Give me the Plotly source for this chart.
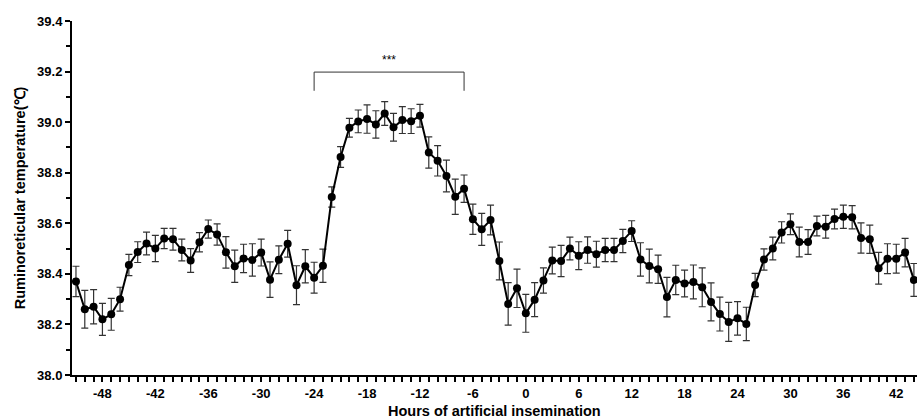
import plotly.graph_objects as go

hours = list(range(-51, 45))
temp_mean = [
    38.37, 38.26, 38.27, 38.22, 38.24, 38.30, 38.435, 38.486, 38.52, 38.50,
    38.54, 38.537, 38.494, 38.453, 38.525, 38.577, 38.556, 38.485, 38.43, 38.461,
    38.455, 38.484, 38.377, 38.456, 38.519, 38.355, 38.43, 38.385, 38.432, 38.704,
    38.862, 38.978, 39.003, 39.012, 38.991, 39.034, 38.98, 39.008, 39.004, 39.025,
    38.88, 38.847, 38.787, 38.705, 38.737, 38.616, 38.576, 38.613, 38.451, 38.281,
    38.343, 38.244, 38.298, 38.374, 38.453, 38.451, 38.50, 38.472, 38.494, 38.478,
    38.494, 38.494, 38.53, 38.569, 38.457, 38.431, 38.418, 38.308, 38.376, 38.362,
    38.368, 38.347, 38.289, 38.241, 38.21, 38.224, 38.202, 38.356, 38.457, 38.50,
    38.564, 38.596, 38.526, 38.526, 38.589, 38.586, 38.617, 38.626, 38.624, 38.542,
    38.537, 38.422, 38.46, 38.46, 38.484, 38.376,
]
temp_se = [
    0.06, 0.075, 0.068, 0.063, 0.063, 0.047, 0.042, 0.041, 0.045, 0.052,
    0.04, 0.043, 0.043, 0.047, 0.038, 0.036, 0.042, 0.062, 0.064, 0.056,
    0.064, 0.053, 0.07, 0.055, 0.053, 0.077, 0.066, 0.061, 0.066, 0.04,
    0.041, 0.037, 0.045, 0.056, 0.054, 0.047, 0.055, 0.053, 0.049, 0.045,
    0.062, 0.06, 0.063, 0.07, 0.054, 0.06, 0.063, 0.059, 0.075, 0.084,
    0.076, 0.075, 0.067, 0.05, 0.053, 0.062, 0.045, 0.055, 0.052, 0.051,
    0.046, 0.046, 0.046, 0.041, 0.066, 0.067, 0.056, 0.078, 0.058, 0.053,
    0.067, 0.077, 0.075, 0.067, 0.077, 0.066, 0.066, 0.046, 0.042, 0.045,
    0.042, 0.041, 0.059, 0.049, 0.039, 0.045, 0.039, 0.046, 0.046, 0.06,
    0.056, 0.063, 0.059, 0.057, 0.056, 0.065,
]
x_tickvals = [-48, -42, -36, -30, -24, -18, -12, -6, 0, 6, 12, 18, 24, 30, 36, 42]
x_ticktext = ["-48", "-42", "-36", "-30", "-24", "-18", "-12", "-6", "0", "6",
              "12", "18", "24", "30", "36", "42"]
bracket_start, bracket_end = -24, -7
bracket_label = "***"

FAM = "Liberation Sans, Arial, sans-serif"
font_b = dict(family=FAM, size=13, color="black", weight="bold")
title_font = dict(family=FAM, size=14.5, color="black", weight="bold")

fig = go.Figure()
fig.add_trace(go.Scatter(
    x=hours, y=temp_mean, mode="lines+markers",
    line=dict(color="black", width=2),
    marker=dict(color="black", size=8),
    error_y=dict(type="data", array=temp_se, color="#333333", thickness=1.2, width=3.5),
    showlegend=False,
))

fig.add_shape(type="path",
              path=f"M {bracket_start},39.124 L {bracket_start},39.198 L {bracket_end},39.198 L {bracket_end},39.124",
              xref="x", yref="y", line=dict(color="#333", width=1))
fig.add_annotation(x=(bracket_start + bracket_end) / 2, y=39.198, yshift=3, yanchor="bottom",
                   text=bracket_label, showarrow=False,
                   font=dict(family=FAM, size=12, color="black"))
fig.add_annotation(x=0.5, xref="paper", y=0, yref="paper", yanchor="top", yshift=-26,
                   text="Hours of artificial insemination", showarrow=False,
                   font=title_font)

fig.update_layout(
    width=917, height=418,
    margin=dict(l=72, r=0, t=21, b=43),
    paper_bgcolor="white", plot_bgcolor="white",
)
fig.update_xaxes(
    range=[-51.45, 44.35], tickvals=x_tickvals, ticktext=x_ticktext,
    showline=True, linecolor="black", linewidth=2, showgrid=False, zeroline=False,
    ticks="outside", ticklen=5, tickwidth=1.5, tickcolor="black",
    minor=dict(dtick=1, tick0=0, ticks="outside", ticklen=5, tickwidth=1.5, tickcolor="black"),
    tickfont=font_b,
)
fig.update_yaxes(
    range=[38.0, 39.4], dtick=0.2, tick0=38.0, tickformat=".1f",
    showline=True, linecolor="black", linewidth=2, showgrid=False, zeroline=False,
    ticks="outside", ticklen=5, tickwidth=1.5, tickcolor="black",
    minor=dict(dtick=0.1, ticks="outside", ticklen=4, tickwidth=1.5, tickcolor="black"),
    tickfont=font_b,
    automargin=False,
    title=dict(text="Ruminoreticular temperature(℃)", standoff=8, font=title_font),
)

fig.write_html("out.html", config={"displayModeBar": False},
               post_script="document.body.style.margin='0';document.body.style.padding='0';")
